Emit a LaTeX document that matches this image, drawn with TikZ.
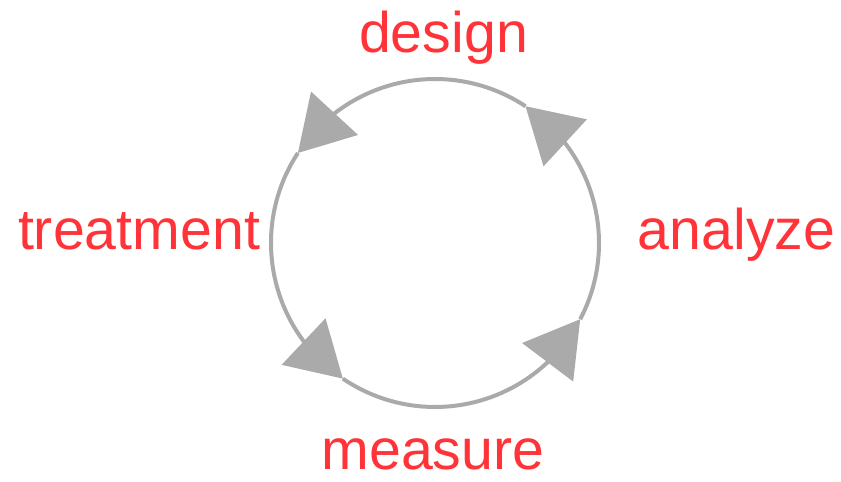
\documentclass[tikz,border=0pt]{standalone}
\usepackage{fontspec}
\setmainfont{Liberation Sans}
\usetikzlibrary{arrows.meta,bending}
\definecolor{cyclegray}{RGB}{170,170,170}
\definecolor{labelred}{RGB}{255,51,56}
\tikzset{
  cyclearc/.style={draw=cyclegray, line width=4bp,
    -{Triangle[length=54bp,width=64bp,line width=0pt,flex]}},
  steplabel/.style={text=labelred, font=\fontsize{57.5}{60}\selectfont,
    inner sep=0pt, anchor=base}
}
\begin{document}
\begin{tikzpicture}[x=1bp,y=1bp]
  \useasboundingbox (0,0) rectangle (841,482);
  \coordinate (O) at (435,239);
  % ends of the arcs on the circle
  \coordinate (pa) at ([shift={(-27.7:164)}]O);
  \coordinate (pd) at ([shift={(56.5:164)}]O);
  \coordinate (pt) at ([shift={(146.7:164)}]O);
  \coordinate (pm) at ([shift={(235.8:164)}]O);
  % the cycle
  \draw[cyclearc] (pa) arc[start angle=-27.7, end angle=56.5, radius=164];
  \draw[cyclearc] (pd) arc[start angle=56.5, end angle=146.7, radius=164];
  \draw[cyclearc] (pt) arc[start angle=146.7, end angle=235.8, radius=164];
  \draw[cyclearc] (pm) arc[start angle=235.8, end angle=332.3, radius=164];
  % Labels
  \node[steplabel] (design) at (443.5,429) {design};
  \node[steplabel] (analyze) at (736.5,232) {analyze};
  \node[steplabel] (measure) at (433,12) {measure};
  \node[steplabel] (treatment) at (139,232) {treatment};
\end{tikzpicture}
\end{document}
